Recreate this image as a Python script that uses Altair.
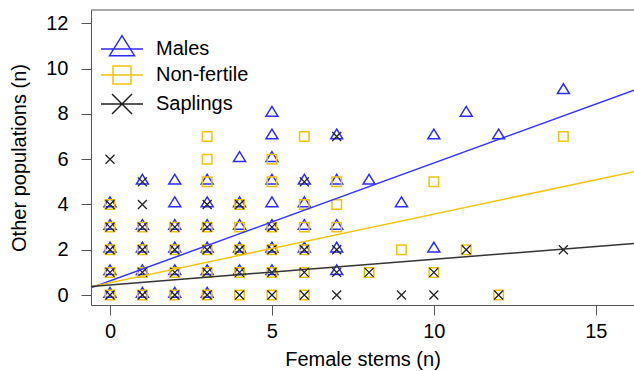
import altair as alt
import pandas as pd

FONT = "Liberation Sans"

# ---- data ----
series_names = ["Males", "Non-fertile", "Saplings"]
series_colors = ["#2b2bff", "#f0c20f", "#222222"]
line_colors = ["#3535ff", "#f2c512", "#333333"]

males_x = [0, 0, 0, 0, 0, 1, 1, 1, 1, 1, 2, 2, 2, 2, 2, 2, 3, 3, 3, 3, 3, 3,
           4, 4, 4, 4, 4, 5, 5, 5, 5, 5, 5, 5, 5, 6, 6, 6, 6, 7, 7, 7, 7, 7,
           8, 9, 10, 10, 11, 12, 14]
males_y = [4, 3, 2, 1, 0, 5, 3, 2, 1, 0, 5, 4, 3, 2, 1, 0, 5, 4, 3, 2, 1, 0,
           6, 4, 3, 2, 1, 8, 7, 6, 5, 4, 3, 2, 1, 5, 4, 3, 2, 7, 5, 3, 2, 1,
           5, 4, 7, 2, 8, 7, 9]

nonfertile_x = [0, 0, 0, 0, 0, 1, 1, 1, 1, 2, 2, 2, 2, 3, 3, 3, 3, 3, 3, 3,
                4, 4, 4, 4, 4, 5, 5, 5, 5, 5, 5, 6, 6, 6, 6, 6, 6, 7, 7, 7,
                8, 9, 10, 10, 11, 12, 14]
nonfertile_y = [4, 3, 2, 1, 0, 3, 2, 1, 0, 3, 2, 1, 0, 7, 6, 5, 3, 2, 1, 0,
                4, 3, 2, 1, 0, 6, 5, 3, 2, 1, 0, 7, 4, 3, 2, 1, 0, 5, 4, 3,
                1, 2, 5, 1, 2, 0, 7]

saplings_x = [0, 0, 0, 0, 0, 0, 1, 1, 1, 1, 1, 1, 2, 2, 2, 2, 3, 3, 3, 3, 3,
              4, 4, 4, 4, 5, 5, 5, 5, 6, 6, 6, 6, 7, 7, 7, 7,
              8, 9, 10, 10, 11, 12, 14]
saplings_y = [6, 4, 3, 2, 1, 0, 5, 4, 3, 2, 1, 0, 3, 2, 1, 0, 4, 3, 2, 1, 0,
              4, 2, 1, 0, 3, 2, 1, 0, 5, 2, 1, 0, 7, 2, 1, 0,
              1, 0, 1, 0, 2, 0, 2]

# fitted regression lines (read at the plot edges)
line_x_start = [-0.587, -0.587, -0.587]
line_x_end = [16.18, 16.18, 16.18]
line_y_start = [0.32, 0.36, 0.38]
line_y_end = [9.05, 5.45, 2.28]

x_ticks = [0, 5, 10, 15]
y_ticks = [0, 2, 4, 6, 8, 10, 12]
X_DOMAIN = [-0.587, 16.18]
Y_DOMAIN = [-0.44, 12.59]

W, H = 543, 295

# ---- symbol shapes ----
tri_path = "M-1,0.37L1,0.37L0,-1.25Z"
x_path = "M-1,-1L1,1M-1,1L1,-1"
leg_tri = "M-2.1,0L2.1,0M-1.25,0.67L1.25,0.67L0,-1.33Z"
leg_sq = "M-2.1,0L2.1,0M-0.9,-0.9L0.9,-0.9L0.9,0.9L-0.9,0.9Z"
leg_x = "M-2.1,0L2.1,0M-1,-1L1,1M-1,1L1,-1"

xenc = alt.X("x:Q",
             scale=alt.Scale(domain=X_DOMAIN, nice=False, zero=False),
             axis=alt.Axis(values=x_ticks, title="Female stems (n)",
                           tickSize=10, labelPadding=6, titlePadding=8,
                           format="d"))
yenc = alt.Y("y:Q",
             scale=alt.Scale(domain=Y_DOMAIN, nice=False, zero=False),
             axis=alt.Axis(values=y_ticks, title="Other populations (n)",
                           tickSize=10, labelPadding=13, titlePadding=16,
                           format="d"))

males = alt.Chart(pd.DataFrame({"x": males_x, "y": males_y})).mark_point(
    shape=tri_path, size=144, filled=False, color=series_colors[0],
    strokeWidth=1.5, opacity=1).encode(x=xenc, y=yenc)

nonfertile = alt.Chart(pd.DataFrame({"x": nonfertile_x, "y": nonfertile_y})).mark_point(
    shape="square", size=90, filled=False, color=series_colors[1],
    strokeWidth=1.5, opacity=1).encode(x=xenc, y=yenc)

saplings = alt.Chart(pd.DataFrame({"x": saplings_x, "y": saplings_y})).mark_point(
    shape=x_path, size=81, filled=False, color=series_colors[2],
    strokeWidth=1.3, opacity=1).encode(x=xenc, y=yenc)

lines_df = pd.DataFrame({"series": series_names, "x": line_x_start, "x2": line_x_end,
                         "y": line_y_start, "y2": line_y_end})
line_layers = []
for name, col in zip(series_names, line_colors):
    line_layers.append(
        alt.Chart(lines_df).transform_filter(alt.datum.series == name)
        .mark_rule(color=col, strokeWidth=1.5, clip=True)
        .encode(x=xenc, x2="x2:Q", y=yenc, y2="y2:Q")
    )

leg = alt.Legend(title=None, orient="none", legendX=20, legendY=28,
                 symbolSize=400, symbolStrokeWidth=1.5,
                 symbolFillColor="transparent",
                 labelFontSize=20, labelFont=FONT, labelColor="#000",
                 labelOffset=23, rowPadding=4, padding=0)

legend_layer = alt.Chart(pd.DataFrame({"series": series_names})).transform_filter(
    "false").mark_point(filled=False, opacity=1).encode(
    shape=alt.Shape("series:N",
                    scale=alt.Scale(domain=series_names, range=[leg_tri, leg_sq, leg_x]),
                    legend=leg),
    color=alt.Color("series:N",
                    scale=alt.Scale(domain=series_names, range=series_colors),
                    legend=leg),
)

top_frame = alt.Chart(pd.DataFrame({"a": [0]})).mark_rule(color="#555555", strokeWidth=1).encode(
    x=alt.value(0), x2=alt.value(W), y=alt.value(0))

chart = alt.layer(males, nonfertile, saplings, *line_layers, legend_layer, top_frame).properties(
    width=W, height=H,
    background="white",
    autosize=alt.AutoSizeParams(type="none"),
    padding={"left": 91, "top": 10, "right": 0, "bottom": 66},
).configure_view(stroke=None).configure_axis(
    grid=False, domainColor="#555555", tickColor="#555555",
    labelFont=FONT, titleFont=FONT, labelFontSize=20, titleFontSize=20,
    labelColor="#000000", titleColor="#000000", titleFontWeight="normal",
)

chart.save("out.html", embed_options={"renderer": "svg", "actions": False})
